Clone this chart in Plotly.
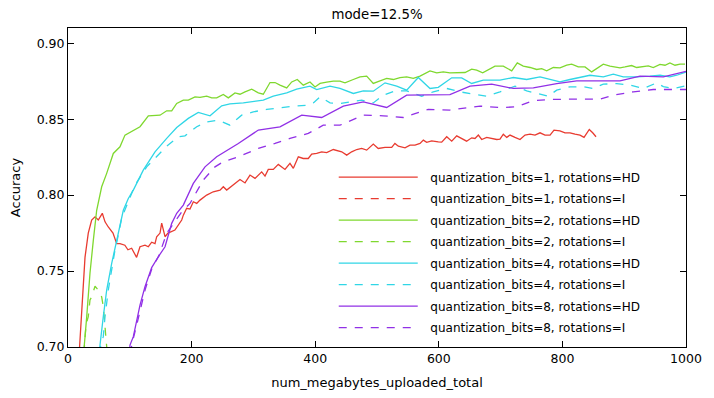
import plotly.graph_objects as go

# bits=1, rotations=HD
b1_hd_x = [12, 19.4, 22.2, 27.5, 32.8, 38.3, 43.7, 49, 55.5, 59.9, 65.2, 72.8, 78.8, 84, 92, 97, 103, 111, 116.5,
           124.6, 130, 135.4, 140.8, 143.5, 148.9, 151.6, 157, 161.8, 173, 184, 186.6, 192, 197.4, 202.8, 208.3,
           213.6, 224.4, 235, 246, 251.3, 256.8, 267.5, 278.3, 286.4, 294.5, 302.6, 313.4, 318.8, 324.1, 332.2,
           340.3, 351.1, 359.2, 364.6, 372.7, 380.7, 388.8, 394.3, 402.4, 410.5, 418.6, 429.3, 437.4, 442.9, 451,
           459, 467.2, 475.2, 483.3, 494, 502, 513, 523.8, 529, 534.5, 545.3, 553.4, 561.5, 569.6, 575, 580.4,
           588.5, 599.2, 604.7, 612.8, 620.9, 629, 637, 645, 653.2, 658.6, 664, 669.4, 677.5, 685.6, 693.7, 699,
           704.4, 709.9, 715.2, 723.3, 731.4, 739.5, 747.6, 755.7, 763.8, 771.8, 780, 786.4, 796, 804.2, 812.3,
           820.4, 828.5, 835, 839.3, 843.5, 849, 854.4]
b1_hd_y = [0.655, 0.701, 0.720, 0.759, 0.775, 0.7836, 0.7857, 0.7836, 0.788, 0.7824, 0.779, 0.775, 0.768, 0.768,
           0.767, 0.764, 0.765, 0.759, 0.766, 0.767, 0.766, 0.769, 0.768, 0.7726, 0.775, 0.7816, 0.7726, 0.775,
           0.777, 0.7836, 0.7868, 0.7913, 0.7908, 0.7956, 0.7945, 0.7967, 0.800, 0.8022, 0.8033, 0.8055, 0.8033,
           0.8066, 0.8103, 0.808, 0.8132, 0.811, 0.8153, 0.8125, 0.8169, 0.8169, 0.8202, 0.8169, 0.8209, 0.8176,
           0.8252, 0.8241, 0.8241, 0.827, 0.8274, 0.8285, 0.828, 0.830, 0.829, 0.8285, 0.8263, 0.8285, 0.830,
           0.8307, 0.8296, 0.8336, 0.8307, 0.8314, 0.8314, 0.834, 0.8322, 0.8311, 0.8329, 0.8329, 0.834, 0.8362,
           0.8347, 0.8357, 0.835, 0.8349, 0.8384, 0.8355, 0.839, 0.837, 0.8355, 0.8377, 0.8373, 0.8395, 0.8366,
           0.838, 0.8373, 0.8366, 0.8368, 0.8401, 0.838, 0.8395, 0.838, 0.8366, 0.8395, 0.8401, 0.8395, 0.841,
           0.8395, 0.8395, 0.8428, 0.8423, 0.841, 0.841, 0.8401, 0.8395, 0.838, 0.8406, 0.8432, 0.841, 0.8384]

# bits=1, rotations=I (never shows up inside the plotted range)
b1_i_x = [None]
b1_i_y = [None]

# bits=2, rotations=HD
b2_hd_x = [22, 26.4, 30.3, 35.6, 41, 46.4, 54.5, 62.6, 73.3, 84.1, 92.2, 108.4, 116.5, 130, 148.9, 159.7, 167.8,
           175.9, 186.6, 194.7, 205.5, 213.6, 224.4, 232.5, 240.6, 251.3, 259.4, 270.2, 278.3, 286.4, 297.2, 308,
           316, 326.9, 335, 343, 353.9, 362, 371, 380.7, 391.6, 399.7, 407.8, 418.6, 429.3, 440, 448.2, 461.6,
           472.5, 483.3, 494, 504.9, 515.7, 526.4, 537.2, 548, 558.7, 569.6, 585.8, 596.6, 607.3, 618, 629, 642.4,
           653.2, 661.3, 671, 680, 690.9, 704.4, 718, 727, 736.7, 747.6, 758.4, 766.5, 774.6, 785.3, 796.1, 807,
           815, 825.7, 836.6, 847.4, 855.5, 866.2, 877, 893.2, 901.3, 912, 920.2, 928.3, 939, 947, 957.9, 966,
           974, 982.2, 990.3, 998.4]
b2_hd_y = [0.670, 0.7013, 0.720, 0.7487, 0.7704, 0.790, 0.8055, 0.8143, 0.8274, 0.8318, 0.8395, 0.8428, 0.845,
           0.8522, 0.8526, 0.8555, 0.8555, 0.8603, 0.8625, 0.8625, 0.8647, 0.8643, 0.8651, 0.864, 0.864, 0.8662,
           0.864, 0.8673, 0.8664, 0.868, 0.8697, 0.8673, 0.8664, 0.8741, 0.8741, 0.8724, 0.8706, 0.8745, 0.8761,
           0.8724, 0.8745, 0.8712, 0.8735, 0.8743, 0.875, 0.875, 0.8739, 0.8761, 0.8778, 0.8783, 0.8735, 0.8752,
           0.8768, 0.8761, 0.8774, 0.8778, 0.8768, 0.8783, 0.8818, 0.8805, 0.8811, 0.8805, 0.8807, 0.8807, 0.8829,
           0.8822, 0.8805, 0.8827, 0.8849, 0.8849, 0.8818, 0.887, 0.8849, 0.884, 0.8827, 0.8833, 0.8818, 0.884,
           0.8838, 0.8855, 0.8862, 0.8844, 0.8844, 0.8811, 0.8834, 0.8862, 0.8849, 0.8838, 0.8844, 0.8853, 0.884,
           0.8844, 0.8851, 0.884, 0.886, 0.8855, 0.887, 0.8855, 0.8862, 0.8862]

# bits=2, rotations=I
b2_i_x = [22, 26.4, 29.1, 32.8, 35.6, 38.3, 41, 43.7, 49, 54.5, 57.1, 59.9, 62.6, 70]
b2_i_y = [0.675, 0.7013, 0.7145, 0.720, 0.731, 0.733, 0.7375, 0.740, 0.7375, 0.733, 0.7265, 0.7156, 0.7013, 0.665]

# bits=4, rotations=HD
b4_hd_x = [48, 51.8, 57.1, 62.6, 70.7, 76, 84.1, 89.5, 97.6, 105.7, 121.8, 140.8, 159.7, 175.9, 194.7, 210.8,
           229.8, 248.7, 262, 283.7, 316, 332.2, 353.9, 370, 391.6, 402.4, 424, 440.1, 461.7, 477.8, 494, 513,
           531.9, 548, 566.8, 585.8, 599.2, 620.9, 637, 653.2, 672, 699, 720.6, 742.2, 763.8, 780, 796, 812.3,
           828.5, 844.7, 866.2, 882.4, 898.5, 920.2, 941.7, 958, 974, 985, 1000]
b4_hd_y = [0.680, 0.7013, 0.720, 0.7375, 0.755, 0.765, 0.7814, 0.790, 0.7978, 0.8033, 0.8164, 0.8285, 0.8373,
           0.8445, 0.8505, 0.8544, 0.8522, 0.8588, 0.860, 0.8607, 0.8625, 0.8651, 0.8673, 0.8697, 0.8717, 0.8695,
           0.8717, 0.8702, 0.8669, 0.8686, 0.8684, 0.8739, 0.8717, 0.8691, 0.8774, 0.8702, 0.8709, 0.8772, 0.8772,
           0.8735, 0.8757, 0.8757, 0.8774, 0.8761, 0.8778, 0.8761, 0.8745, 0.8761, 0.8774, 0.8789, 0.8778, 0.8796,
           0.8778, 0.8778, 0.8783, 0.8789, 0.8778, 0.8789, 0.881]

# bits=4, rotations=I
b4_i_x = [50, 52.9, 57.1, 59.9, 65.2, 70.7, 76, 81.4, 86.9, 92.2, 100.3, 108.4, 127.3, 140.8, 159.7, 178.5, 189.3,
          208.3, 224.4, 243.2, 262, 281, 299.8, 321.5, 343, 364.6, 388.8, 397, 407.8, 424, 440.1, 456.3, 475.2,
          494, 510.2, 529, 548, 572.3, 591, 612.8, 634.3, 655.8, 677.5, 699, 723.3, 742.2, 758.4, 777.2, 790.8,
          812.3, 833.8, 850, 866.2, 887.9, 909.4, 931, 952.6, 963.3, 979.5, 995.6, 1000]
b4_i_y = [0.685, 0.7013, 0.7068, 0.720, 0.7375, 0.7507, 0.7638, 0.7737, 0.7849, 0.7903, 0.7989, 0.8066, 0.8186,
          0.8241, 0.8322, 0.8384, 0.839, 0.845, 0.8482, 0.8493, 0.846, 0.8526, 0.8548, 0.8564, 0.8577, 0.8586,
          0.8592, 0.8607, 0.8647, 0.8607, 0.8603, 0.8614, 0.8625, 0.8607, 0.8658, 0.8686, 0.8686, 0.8651, 0.868,
          0.8702, 0.868, 0.8664, 0.8651, 0.868, 0.8717, 0.8686, 0.8671, 0.8651, 0.8691, 0.8713, 0.8713, 0.8702,
          0.873, 0.8734, 0.8724, 0.8702, 0.8739, 0.8714, 0.8702, 0.8717, 0.872]

# bits=8, rotations=HD
b8_hd_x = [97, 100.3, 105.7, 111.2, 116.5, 124.6, 135.4, 146.1, 157, 167.8, 175.9, 186.6, 202.8, 221.7, 240.6,
           275.6, 308, 343, 378.2, 410.5, 445.5, 477.8, 515.7, 548, 618, 650.5, 685.6, 720.6, 753, 790.8, 823.1,
           893.2, 925.6, 963.3, 1000]
b8_hd_y = [0.680, 0.7013, 0.7068, 0.7178, 0.7276, 0.7397, 0.7523, 0.7594, 0.766, 0.7814, 0.788, 0.7934, 0.8077,
           0.8186, 0.8252, 0.834, 0.8428, 0.8449, 0.8526, 0.8511, 0.8586, 0.8614, 0.8577, 0.8658, 0.8662, 0.8717,
           0.873, 0.8702, 0.8706, 0.8734, 0.8752, 0.8752, 0.8783, 0.8778, 0.8815]

# bits=8, rotations=I
b8_i_x = [100, 103, 112, 125, 136, 147, 159.7, 184, 197.4, 219, 237.9, 251.3, 275.6, 308, 335, 359.2, 388.8, 413,
          440.1, 477.8, 510.2, 542.6, 561.5, 583, 618, 666.7, 699, 726, 753, 785.3, 823, 860.8, 882.4, 914.7, 947,
          1000]
b8_i_y = [0.685, 0.7013, 0.716, 0.738, 0.752, 0.760, 0.7748, 0.789, 0.7945, 0.810, 0.8186, 0.822, 0.8252, 0.8307,
          0.834, 0.8373, 0.8406, 0.846, 0.846, 0.8526, 0.8522, 0.8511, 0.8537, 0.8564, 0.856, 0.8586, 0.8576,
          0.8581, 0.8622, 0.863, 0.8632, 0.8632, 0.8658, 0.868, 0.8695, 0.8695]

series = [
    ("quantization_bits=1, rotations=HD", b1_hd_x, b1_hd_y, "#e83b30", "solid"),
    ("quantization_bits=1, rotations=I", b1_i_x, b1_i_y, "#e83b30", "8px,8px"),
    ("quantization_bits=2, rotations=HD", b2_hd_x, b2_hd_y, "#7fd82f", "solid"),
    ("quantization_bits=2, rotations=I", b2_i_x, b2_i_y, "#7fd82f", "8px,8px"),
    ("quantization_bits=4, rotations=HD", b4_hd_x, b4_hd_y, "#30d6e6", "solid"),
    ("quantization_bits=4, rotations=I", b4_i_x, b4_i_y, "#30d6e6", "8px,8px"),
    ("quantization_bits=8, rotations=HD", b8_hd_x, b8_hd_y, "#9130e6", "solid"),
    ("quantization_bits=8, rotations=I", b8_i_x, b8_i_y, "#9130e6", "8px,8px"),
]

fig = go.Figure()
for name, xs, ys, color, dash in series:
    # two leading spaces = the wider gap between legend line and text
    fig.add_trace(go.Scatter(x=xs, y=ys, mode="lines", name="  " + name, legendgroup=name,
                             line=dict(color=color, width=1.3, dash=dash)))

axis_style = dict(showline=True, mirror="allticks", linecolor="black", linewidth=1,
                  ticks="inside", ticklen=6, tickcolor="black", showgrid=False, zeroline=False,
                  automargin=False, tickfont=dict(size=12.5, color="black"))

# the page body adds an 8px offset, margins compensate for it
fig.update_layout(
    width=714, height=398,
    margin=dict(l=60, r=36, t=20, b=59),
    paper_bgcolor="white", plot_bgcolor="white",
    font=dict(family="DejaVu Sans", size=12.5, color="black"),
    title=dict(text="mode=12.5%", xref="paper", x=0.5, xanchor="center", y=0.983, yanchor="middle",
               font=dict(size=13.3)),
    xaxis=dict(title=dict(text="num_megabytes_uploaded_total", standoff=12, font=dict(size=13)),
               range=[0, 1000], tickvals=[0, 200, 400, 600, 800, 1000], **axis_style),
    yaxis=dict(title=dict(text="Accuracy", standoff=13, font=dict(size=13)), range=[0.70, 0.91],
               tickvals=[0.70, 0.75, 0.80, 0.85, 0.90], tickformat=".2f", **axis_style),
    legend=dict(x=0.43, y=0.578, xanchor="left", yanchor="top", bgcolor="rgba(0,0,0,0)",
                font=dict(size=12), tracegroupgap=2.5, itemwidth=79),
    showlegend=True,
)

fig.write_html("out.html")
